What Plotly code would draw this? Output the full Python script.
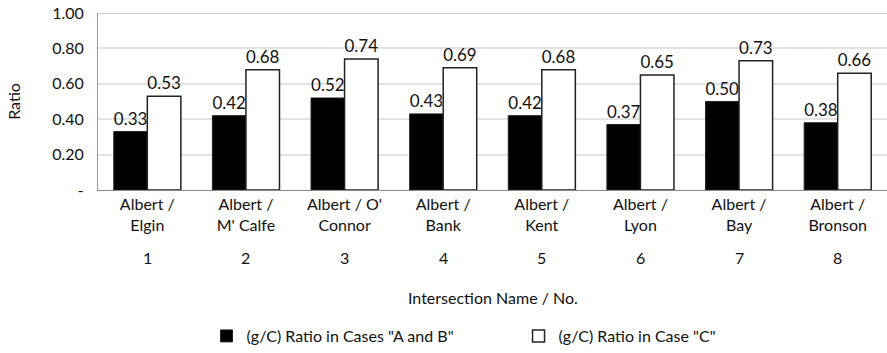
import plotly.graph_objects as go

# Intersection names (two-line tick labels) and their numbers
names = ["Albert /<br>Elgin", "Albert /<br>M' Calfe", "Albert / O'<br>Connor", "Albert /<br>Bank",
         "Albert /<br>Kent", "Albert /<br>Lyon", "Albert /<br>Bay", "Albert /<br>Bronson"]
numbers = ["1", "2", "3", "4", "5", "6", "7", "8"]

# g/C ratios
ratio_ab = [0.33, 0.42, 0.52, 0.43, 0.42, 0.37, 0.50, 0.38]
ratio_c = [0.53, 0.68, 0.74, 0.69, 0.68, 0.65, 0.73, 0.66]

y_ticks = [0, 0.2, 0.4, 0.6, 0.8, 1.0]
y_ticktext = ["-", "0.20", "0.40", "0.60", "0.80", "1.00"]

FONT = "Lato"
x = list(range(len(names)))

fig = go.Figure()
fig.add_trace(go.Bar(
    x=x, y=ratio_ab, name='(g/C) Ratio in Cases "A and B"',
    marker=dict(color="black", line=dict(color="#222", width=1)),
    text=[f"{v:.2f}" for v in ratio_ab], textposition="outside",
    textfont=dict(size=17, color="#111", family=FONT), cliponaxis=False,
))
fig.add_trace(go.Bar(
    x=x, y=ratio_c, name='(g/C) Ratio in Case "C"',
    marker=dict(color="white", line=dict(color="#222", width=1.5)),
    text=[f"{v:.2f}" for v in ratio_c], textposition="outside",
    textfont=dict(size=17, color="#111", family=FONT), cliponaxis=False,
))

for xi, n in zip(x, numbers):
    fig.add_annotation(x=xi, y=0, xref="x", yref="paper", text=n, showarrow=False,
                       yanchor="middle", yshift=-67, font=dict(size=16, color="#111", family=FONT))

fig.add_annotation(x=0.5, y=0, xref="paper", yref="paper", text="Intersection Name / No.",
                   showarrow=False, yanchor="middle", xanchor="center", yshift=-107,
                   font=dict(size=16, color="#111", family=FONT))

fig.update_layout(
    width=887, height=353,
    margin=dict(l=98, r=0, t=13, b=163),
    paper_bgcolor="white", plot_bgcolor="white",
    barmode="group", bargap=0.32, bargroupgap=0,
    font=dict(family=FONT, size=16, color="#111"),
    showlegend=True,
    legend=dict(orientation="h", x=0.533, xanchor="center", y=-0.83, yanchor="middle",
                font=dict(size=16, family=FONT, color="#111"), traceorder="normal",
                itemwidth=30, entrywidth=267, entrywidthmode="pixels"),
)
fig.update_xaxes(
    tickmode="array", tickvals=x, ticktext=names, range=[-0.5, 7.5],
    showline=True, linecolor="#888", linewidth=1, ticks="", showgrid=False,
    tickfont=dict(size=16, family=FONT, color="#111"),
)
fig.update_yaxes(
    range=[0, 1.0], tickmode="array", tickvals=y_ticks, ticktext=y_ticktext,
    showgrid=True, gridcolor="#e3e3e3", gridwidth=1.5, zeroline=False,
    showline=True, linecolor="#999", linewidth=1, ticks="", ticklabelstandoff=10,
    tickfont=dict(size=16, family=FONT, color="#111"),
    title=dict(text="Ratio", font=dict(size=16, family=FONT, color="#111"), standoff=27),
)
# darker frame line at the top of the scale
fig.add_shape(type="line", xref="paper", yref="y", x0=0, x1=1, y0=1.0, y1=1.0,
              line=dict(color="#999", width=1))

fig.write_html("out.html")
